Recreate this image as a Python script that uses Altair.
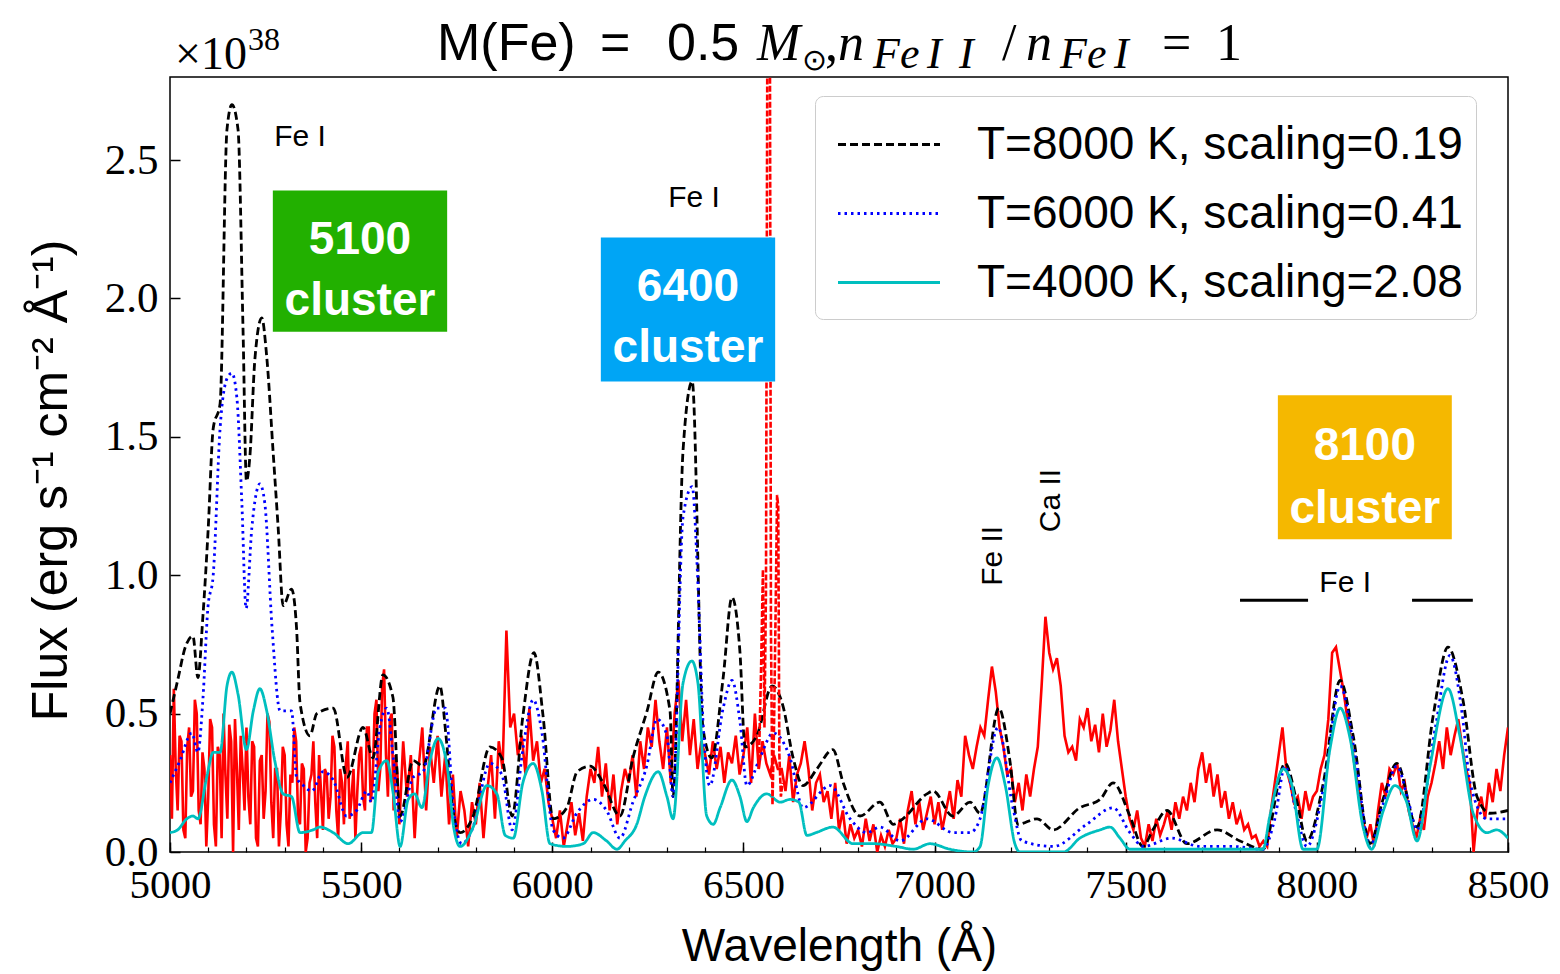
import altair as alt
import pandas as pd

SANS = "Liberation Sans"
SERIF = "Liberation Serif"

# ---------------- data ----------------
# observed spectrum (red, solid): 5 Å sampling below 5600 Å, 10 Å above
red_wl = list(range(5000, 5600, 5)) + list(range(5600, 8501, 10))
red_flux = [
    # 5000-5595 (5 Å)
    0.35, 0.12, 0.59, 0.30, 0.15, 0.42, 0.40, 0.08, 0.05, 0.38,
    0.45, 0.20, 0.22, 0.55, 0.50, 0.15, 0.10, 0.36, 0.30, 0.02,
    0.20, 0.48, 0.45, 0.10, 0.02, 0.38, 0.35, 0.05, 0.50, 0.28,
    0.12, 0.46, 0.40, 0.00, 0.48, 0.30, 0.08, 0.42, 0.30, 0.15,
    0.45, 0.20, 0.10, 0.40, 0.38, 0.05, 0.02, 0.33, 0.35, 0.12,
    0.22, 0.50, 0.47, 0.18, 0.05, 0.30, 0.30, 0.02, 0.15, 0.38,
    0.35, 0.10, 0.02, 0.28, 0.25, 0.45, 0.40, 0.12, 0.10, 0.32,
    0.30, 0.00, 0.05, 0.25, 0.28, 0.40, 0.18, 0.05, 0.35, 0.22,
    0.08, 0.30, 0.28, 0.12, 0.20, 0.42, 0.38, 0.15, 0.05, 0.30,
    0.25, 0.10, 0.32, 0.40, 0.12, 0.20, 0.30, 0.05, 0.22, 0.35,
    0.38, 0.20, 0.15, 0.45, 0.45, 0.18, 0.25, 0.50, 0.55, 0.22,
    0.30, 0.60, 0.66, 0.35, 0.20, 0.48, 0.50, 0.15, 0.35, 0.28,
    # 5600-8500 (10 Å)
    0.10, 0.40, 0.20, 0.35, 0.05, 0.30, 0.45, 0.15, 0.38, 0.25,
    0.42, 0.20, 0.35, 0.10, 0.28, 0.05, 0.22, 0.15, 0.02, 0.18,
    0.10, 0.25, 0.05, 0.22, 0.35, 0.12, 0.40, 0.30, 0.80, 0.45,
    0.50, 0.35, 0.42, 0.28, 0.52, 0.33, 0.40, 0.25, 0.30, 0.18,
    0.12, 0.05, 0.15, 0.02, 0.10, 0.18, 0.06, 0.14, 0.04, 0.20,
    0.30, 0.25, 0.38, 0.20, 0.32, 0.15, 0.28, 0.10, 0.22, 0.30,
    0.25, 0.35, 0.20, 0.40, 0.30, 0.45, 0.38, 0.55, 0.40, 0.30,
    0.45, 0.25, 0.50, 0.62, 0.40, 0.55, 0.35, 0.48, 0.30, 0.40,
    0.35, 0.28, 0.40, 0.30, 0.38, 0.25, 0.36, 0.32, 0.42, 0.28,
    0.35, 0.45, 0.25, 0.50, 0.30, 0.40, 0.32, 0.28, 0.35, 0.30,
    0.30, 0.22, 0.35, 0.18, 0.28, 0.32, 0.40, 0.30, 0.15, 0.25,
    0.28, 0.18, 0.22, 0.12, 0.25, 0.08, 0.15, 0.03, 0.10, 0.05,
    0.08, 0.02, 0.12, 0.04, 0.10, 0.00, 0.06, 0.02, 0.08, 0.03,
    0.05, 0.12, 0.03, 0.15, 0.22, 0.10, 0.18, 0.08, 0.14, 0.20,
    0.10, 0.18, 0.08, 0.15, 0.22, 0.12, 0.26, 0.20, 0.42, 0.35,
    0.30, 0.38, 0.45, 0.42, 0.55, 0.67, 0.58, 0.45, 0.38, 0.28,
    0.30, 0.18, 0.25, 0.15, 0.28, 0.20, 0.30, 0.38, 0.60, 0.85,
    0.72, 0.66, 0.70, 0.60, 0.42, 0.36, 0.38, 0.33, 0.48, 0.45,
    0.52, 0.40, 0.46, 0.36, 0.50, 0.38, 0.44, 0.55, 0.40, 0.30,
    0.20, 0.12, 0.08, 0.15, 0.05, 0.02, 0.10, 0.04, 0.12, 0.06,
    0.10, 0.15, 0.08, 0.18, 0.12, 0.20, 0.15, 0.25, 0.18, 0.30,
    0.36, 0.25, 0.32, 0.20, 0.28, 0.16, 0.22, 0.12, 0.18, 0.10,
    0.14, 0.08, 0.10, 0.05, 0.06, 0.02, 0.04, 0.02, 0.15, 0.25,
    0.35, 0.45, 0.30, 0.25, 0.18, 0.20, 0.12, 0.22, 0.15, 0.20,
    0.22, 0.30, 0.35, 0.48, 0.72, 0.74, 0.66, 0.58, 0.48, 0.40,
    0.30, 0.22, 0.12, 0.05, 0.10, 0.02, 0.15, 0.25, 0.20, 0.30,
    0.28, 0.32, 0.22, 0.25, 0.15, 0.10, 0.05, 0.12, 0.08, 0.20,
    0.25, 0.32, 0.40, 0.30, 0.45, 0.35, 0.42, 0.48, 0.38, 0.30,
    0.25, 0.00, 0.15, 0.20, 0.12, 0.25, 0.18, 0.30, 0.22, 0.35,
    0.45,
]

# H-alpha region of the observed spectrum (red, dashed)
ha_wl = [6540, 6546, 6551, 6555, 6559, 6563, 6566, 6569, 6572, 6576,
         6580, 6584, 6588, 6591, 6594, 6598, 6602]
ha_flux = [0.30, 0.65, 1.02, 0.45, 0.95, 3.20, 3.20, 3.20, 0.80, 0.17,
           0.45, 0.85, 1.29, 1.25, 0.35, 0.20, 0.25]

# model T=8000 K (black dashed)
t8_wl = [5000, 5020, 5040, 5060, 5073, 5086, 5100, 5113, 5131, 5149, 5162, 5178,
         5191, 5200, 5209, 5222, 5240, 5253, 5270, 5283, 5296, 5318, 5331, 5340,
         5366, 5384, 5427, 5463, 5505, 5531, 5557, 5583, 5602, 5636, 5662, 5706,
         5722, 5740, 5759, 5793, 5837, 5868, 5895, 5923, 5952, 5976, 6002, 6038,
         6065, 6099, 6133, 6177, 6211, 6248, 6277, 6308, 6316, 6342, 6366, 6394,
         6417, 6447, 6470, 6491, 6504, 6535, 6575, 6603, 6630, 6656, 6692, 6734,
         6761, 6805, 6857, 6892, 6917, 6980, 6996, 7048, 7093, 7119, 7168, 7197,
         7218, 7268, 7310, 7380, 7433, 7467, 7511, 7545, 7571, 7608, 7660, 7739,
         7799, 7859, 7917, 7948, 7974, 8017, 8061, 8095, 8139, 8173, 8209, 8262,
         8304, 8343, 8382, 8419, 8453, 8500]
t8_flux = [0.50, 0.62, 0.74, 0.78, 0.63, 0.85, 1.17, 1.53, 1.62, 2.61, 2.70, 2.61,
           1.89, 1.34, 1.43, 1.78, 1.93, 1.79, 1.44, 1.17, 0.89, 0.95, 0.81, 0.54,
           0.42, 0.50, 0.52, 0.27, 0.45, 0.34, 0.64, 0.56, 0.13, 0.33, 0.31, 0.60,
           0.42, 0.15, 0.07, 0.13, 0.38, 0.34, 0.13, 0.49, 0.72, 0.49, 0.12, 0.16,
           0.29, 0.31, 0.25, 0.13, 0.34, 0.51, 0.65, 0.51, 0.20, 1.45, 1.70, 0.45,
           0.34, 0.63, 0.92, 0.72, 0.38, 0.42, 0.60, 0.53, 0.34, 0.24, 0.30, 0.37,
           0.25, 0.13, 0.18, 0.10, 0.12, 0.21, 0.22, 0.13, 0.18, 0.14, 0.52, 0.33,
           0.10, 0.12, 0.08, 0.16, 0.19, 0.25, 0.13, 0.02, 0.08, 0.15, 0.03, 0.08,
           0.04, 0.01, 0.32, 0.18, 0.04, 0.25, 0.62, 0.42, 0.03, 0.19, 0.32, 0.09,
           0.49, 0.74, 0.55, 0.20, 0.14, 0.15]

# model T=6000 K (blue dotted)
t6_wl = [5000, 5026, 5057, 5073, 5086, 5099, 5113, 5131, 5149, 5162, 5175, 5188,
         5199, 5214, 5235, 5248, 5267, 5288, 5318, 5331, 5349, 5371, 5400, 5427,
         5462, 5488, 5515, 5527, 5549, 5567, 5584, 5602, 5636, 5662, 5698, 5720,
         5742, 5763, 5790, 5837, 5868, 5895, 5923, 5950, 5973, 6002, 6028, 6064,
         6107, 6142, 6177, 6211, 6247, 6274, 6300, 6316, 6342, 6366, 6380, 6395,
         6412, 6447, 6470, 6491, 6509, 6543, 6578, 6622, 6656, 6727, 6779, 6823,
         6857, 6910, 6980, 7048, 7093, 7119, 7166, 7205, 7228, 7310, 7398, 7467,
         7511, 7546, 7620, 7694, 7781, 7859, 7890, 7917, 7945, 7974, 8020, 8061,
         8100, 8139, 8175, 8209, 8240, 8262, 8310, 8348, 8380, 8401, 8445, 8500]
t6_flux = [0.25, 0.33, 0.43, 0.36, 0.55, 0.88, 1.00, 1.53, 1.71, 1.73, 1.64, 1.26,
           0.88, 1.17, 1.33, 1.26, 0.81, 0.51, 0.51, 0.27, 0.24, 0.22, 0.29, 0.26,
           0.13, 0.15, 0.22, 0.18, 0.45, 0.52, 0.34, 0.11, 0.27, 0.29, 0.52, 0.52,
           0.15, 0.03, 0.08, 0.32, 0.28, 0.08, 0.37, 0.55, 0.43, 0.08, 0.05, 0.14,
           0.19, 0.15, 0.05, 0.18, 0.31, 0.48, 0.42, 0.20, 1.21, 1.32, 1.00, 0.45,
           0.24, 0.52, 0.62, 0.47, 0.24, 0.34, 0.43, 0.34, 0.16, 0.24, 0.12, 0.07,
           0.09, 0.04, 0.12, 0.07, 0.07, 0.12, 0.45, 0.16, 0.04, 0.02, 0.10, 0.16,
           0.07, 0.02, 0.05, 0.02, 0.02, 0.01, 0.12, 0.31, 0.15, 0.02, 0.25, 0.60,
           0.35, 0.02, 0.18, 0.31, 0.18, 0.08, 0.45, 0.71, 0.50, 0.25, 0.12, 0.12]

# model T=4000 K (cyan solid)
t4_wl = [5000, 5020, 5044, 5060, 5073, 5096, 5113, 5131, 5149, 5162, 5178, 5200,
         5218, 5235, 5253, 5274, 5296, 5318, 5340, 5374, 5392, 5427, 5466, 5505,
         5527, 5545, 5567, 5584, 5602, 5623, 5640, 5659, 5680, 5701, 5725, 5742,
         5759, 5793, 5829, 5855, 5877, 5898, 5923, 5950, 5973, 5994, 6038, 6081,
         6107, 6142, 6169, 6190, 6221, 6242, 6277, 6300, 6316, 6342, 6365, 6381,
         6404, 6421, 6439, 6470, 6491, 6509, 6526, 6561, 6596, 6622, 6645, 6666,
         6690, 6734, 6787, 6840, 6900, 6944, 6988, 7040, 7101, 7119, 7140, 7163,
         7185, 7210, 7223, 7337, 7380, 7433, 7459, 7485, 7511, 7642, 7859, 7877,
         7912, 7935, 7964, 8000, 8034, 8061, 8087, 8121, 8143, 8174, 8204, 8235,
         8262, 8296, 8343, 8374, 8409, 8445, 8470, 8500]
t4_flux = [0.07, 0.08, 0.12, 0.13, 0.12, 0.27, 0.36, 0.36, 0.60, 0.65, 0.57, 0.37,
           0.51, 0.59, 0.51, 0.33, 0.21, 0.20, 0.07, 0.08, 0.09, 0.07, 0.03, 0.07,
           0.07, 0.29, 0.33, 0.21, 0.02, 0.19, 0.21, 0.16, 0.33, 0.41, 0.31, 0.09,
           0.02, 0.09, 0.24, 0.21, 0.06, 0.05, 0.25, 0.32, 0.22, 0.03, 0.02, 0.03,
           0.07, 0.04, 0.01, 0.04, 0.10, 0.20, 0.29, 0.20, 0.12, 0.61, 0.69, 0.61,
           0.13, 0.10, 0.16, 0.26, 0.20, 0.11, 0.16, 0.21, 0.18, 0.19, 0.18, 0.06,
           0.07, 0.09, 0.03, 0.03, 0.02, 0.01, 0.03, 0.01, 0.00, 0.02, 0.24, 0.34,
           0.24, 0.03, 0.00, 0.00, 0.05, 0.08, 0.09, 0.05, 0.01, 0.01, 0.01, 0.13,
           0.30, 0.24, 0.01, 0.01, 0.37, 0.52, 0.41, 0.09, 0.01, 0.15, 0.24, 0.18,
           0.04, 0.31, 0.59, 0.42, 0.14, 0.07, 0.08, 0.05]

series_names = ["T=8000 K, scaling=0.19", "T=6000 K, scaling=0.41", "T=4000 K, scaling=2.08"]

# annotations (data coordinates)
fe1_x = [5340, 6371, 8074]
fe1_y = [2.55, 2.33, 0.94]
rot_labels = ["Fe II", "Ca II"]
rot_x = [7153, 7305]
rot_y = [1.07, 1.27]
clusters = ["5100", "6400", "8100"]
box_x1 = [5269, 6127, 7898]
box_x2 = [5725, 6583, 8353]
box_y1 = [1.88, 1.70, 1.13]
box_y2 = [2.39, 2.22, 1.65]
box_num_y = [2.16, 1.99, 1.415]
box_word_y = [1.94, 1.77, 1.19]
bar_x1 = [7799, 8249]
bar_x2 = [7977, 8408]
bar_y = [0.91, 0.91]

x_major = list(range(5000, 8501, 500))
x_minor = list(range(5000, 8501, 100))
y_major = [0.0, 0.5, 1.0, 1.5, 2.0, 2.5]

# ---------------- chart ----------------
W, H = 1338, 775
xs = alt.Scale(domain=[5000, 8500], nice=False, zero=False)
ys = alt.Scale(domain=[0, 2.8], nice=False, zero=False)

red_df = pd.DataFrame({"wl": red_wl, "flux": red_flux})
ha_df = pd.DataFrame({"wl": ha_wl, "flux": ha_flux})
model_df = pd.concat([
    pd.DataFrame({"wl": t8_wl, "flux": t8_flux, "series": series_names[0]}),
    pd.DataFrame({"wl": t6_wl, "flux": t6_flux, "series": series_names[1]}),
    pd.DataFrame({"wl": t4_wl, "flux": t4_flux, "series": series_names[2]}),
], ignore_index=True)

x_label_axis = alt.Axis(orient="bottom", values=x_major, format="d", ticks=False, tickSize=0,
                        domain=False, grid=False, labelFont=SERIF, labelFontSize=41,
                        labelColor="black", labelPadding=13, labelFlush=False,
                        labelOverlap=False, title="Wavelength (Å)", titleFont=SANS,
                        titleFontSize=46, titleFontWeight="normal", titleColor="black",
                        titlePadding=19)
y_label_axis = alt.Axis(orient="left", values=y_major, format=".1f", ticks=False, tickSize=0,
                        domain=False, grid=False, labelFont=SERIF, labelFontSize=43,
                        labelColor="black", labelPadding=12, labelFlush=False,
                        labelOverlap=False, title="Flux (erg s⁻¹ cm⁻² Å⁻¹)",
                        titleFont=SANS, titleFontSize=50, titleFontWeight="normal",
                        titleColor="black", titlePadding=28, titleY=403)
x_major_axis = alt.Axis(orient="bottom", values=x_major, labels=False, domain=False, grid=False,
                        ticks=True, tickSize=10, tickWidth=1.5, tickColor="black",
                        offset=-10, title=None)
y_major_axis = alt.Axis(orient="left", values=y_major, labels=False, domain=False, grid=False,
                        ticks=True, tickSize=10, tickWidth=1.5, tickColor="black",
                        offset=-10, title=None)
x_minor_axis = alt.Axis(orient="bottom", values=x_minor, labels=False, domain=False, grid=False,
                        ticks=True, tickSize=5, tickWidth=1.2, tickColor="black",
                        offset=-5, title=None)

red_line = alt.Chart(red_df).mark_line(color="#ff0000", strokeWidth=2.6, clip=True).encode(
    x=alt.X("wl:Q", scale=xs, axis=x_label_axis),
    y=alt.Y("flux:Q", scale=ys, axis=y_label_axis),
)

legend = alt.Legend(orient="none", legendX=645, legendY=19, title=None, labelFont=SANS,
                    labelFontSize=46, labelColor="black", symbolType="M-0.75,0H2.25",
                    symbolSize=4624, symbolStrokeWidth=2.8, labelOffset=78,
                    rowPadding=10, padding=13, strokeColor="#cccccc", fillColor="white",
                    cornerRadius=8, labelLimit=0)

model_lines = alt.Chart(model_df).mark_line(strokeWidth=2.8, clip=True, interpolate="monotone").encode(
    x=alt.X("wl:Q", scale=xs, axis=x_major_axis),
    y=alt.Y("flux:Q", scale=ys, axis=y_major_axis),
    color=alt.Color("series:N", scale=alt.Scale(domain=series_names,
                                                range=["black", "#0000ff", "#00bfbf"]),
                    legend=legend),
    strokeDash=alt.StrokeDash("series:N", scale=alt.Scale(domain=series_names,
                                                          range=[[8, 4], [2.5, 4], [1, 0]]),
                              legend=legend),
)

ha_line = alt.Chart(ha_df).mark_line(color="#ff0000", strokeWidth=2.6, strokeDash=[6, 2],
                                     clip=True).encode(
    x=alt.X("wl:Q", scale=xs, axis=x_minor_axis),
    y=alt.Y("flux:Q", scale=ys, axis=None),
)

box_df = pd.DataFrame({"c": clusters, "x1": box_x1, "x2": box_x2, "y1": box_y1,
                       "y2": box_y2, "ny": box_num_y, "wy": box_word_y,
                       "xc": [(a + b) / 2 for a, b in zip(box_x1, box_x2)],
                       "word": ["cluster"] * 3})
boxes = alt.Chart(box_df).mark_rect().encode(
    x=alt.X("x1:Q", scale=xs, axis=None), x2="x2:Q",
    y=alt.Y("y1:Q", scale=ys, axis=None), y2="y2:Q",
    fill=alt.Fill("c:N", scale=alt.Scale(domain=clusters,
                                         range=["#22b000", "#00a5f5", "#f5b800"]),
                  legend=None),
)
box_num = alt.Chart(box_df).mark_text(font=SANS, fontSize=46, fontWeight="bold", color="white",
                                      align="center", baseline="alphabetic").encode(
    x=alt.X("xc:Q", scale=xs, axis=None), y=alt.Y("ny:Q", scale=ys, axis=None), text="c:N")
box_word = alt.Chart(box_df).mark_text(font=SANS, fontSize=46, fontWeight="bold", color="white",
                                       align="center", baseline="alphabetic").encode(
    x=alt.X("xc:Q", scale=xs, axis=None), y=alt.Y("wy:Q", scale=ys, axis=None), text="word:N")

fe_df = pd.DataFrame({"x": fe1_x, "y": fe1_y, "t": ["Fe I"] * 3})
fe_text = alt.Chart(fe_df).mark_text(font=SANS, fontSize=30, color="black", align="center",
                                     baseline="alphabetic").encode(
    x=alt.X("x:Q", scale=xs, axis=None), y=alt.Y("y:Q", scale=ys, axis=None), text="t:N")

rot_df = pd.DataFrame({"x": rot_x, "y": rot_y, "t": rot_labels})
rot_text = alt.Chart(rot_df).mark_text(font=SANS, fontSize=30, color="black", align="center",
                                       baseline="middle", angle=270).encode(
    x=alt.X("x:Q", scale=xs, axis=None), y=alt.Y("y:Q", scale=ys, axis=None), text="t:N")

bar_df = pd.DataFrame({"x1": bar_x1, "x2": bar_x2, "y": bar_y})
bars = alt.Chart(bar_df).mark_rule(color="black", strokeWidth=3).encode(
    x=alt.X("x1:Q", scale=xs, axis=None), x2="x2:Q", y=alt.Y("y:Q", scale=ys, axis=None))

one = pd.DataFrame({"a": [0]})


def txt(t, x, y, font, size, style="normal"):
    return alt.Chart(one).mark_text(text=t, font=font, fontSize=size, fontStyle=style,
                                    color="black", align="left", baseline="alphabetic").encode(
        x=alt.value(x), y=alt.value(y))


title_layers = [
    txt("M(Fe)", 267, -17, SANS, 52),
    txt("=", 430, -17, SANS, 52),
    txt("0.5", 497, -17, SANS, 52),
    txt("M", 587, -17, SERIF, 52, "italic"),
    txt("⊙", 632, -7, SERIF, 30),
    txt(",", 655, -17, SERIF, 52),
    txt("n", 668, -17, SERIF, 52, "italic"),
    txt("Fe", 703, -9, SERIF, 44, "italic"),
    txt("I", 757, -9, SERIF, 44, "italic"),
    txt("I", 789, -9, SERIF, 44, "italic"),
    txt("/", 832, -17, SERIF, 52),
    txt("n", 856, -17, SERIF, 52, "italic"),
    txt("Fe", 890, -9, SERIF, 44, "italic"),
    txt("I", 944, -9, SERIF, 44, "italic"),
    txt("=", 992, -17, SERIF, 52),
    txt("1", 1046, -17, SERIF, 52),
    txt("×10", 5, -8, SERIF, 46),
    txt("38", 78, -27, SERIF, 32),
]

chart = alt.layer(
    red_line, model_lines, ha_line, boxes, box_num, box_word, fe_text, rot_text, bars,
    *title_layers
).resolve_axis(x="independent", y="independent").properties(
    width=W, height=H,
    autosize=alt.AutoSizeParams(type="none"),
    padding={"left": 170, "top": 77, "right": 52, "bottom": 122},
    background="white",
).configure_view(stroke="black", strokeWidth=1.5)

chart.save("out.html", embed_options={"renderer": "svg", "actions": False})
